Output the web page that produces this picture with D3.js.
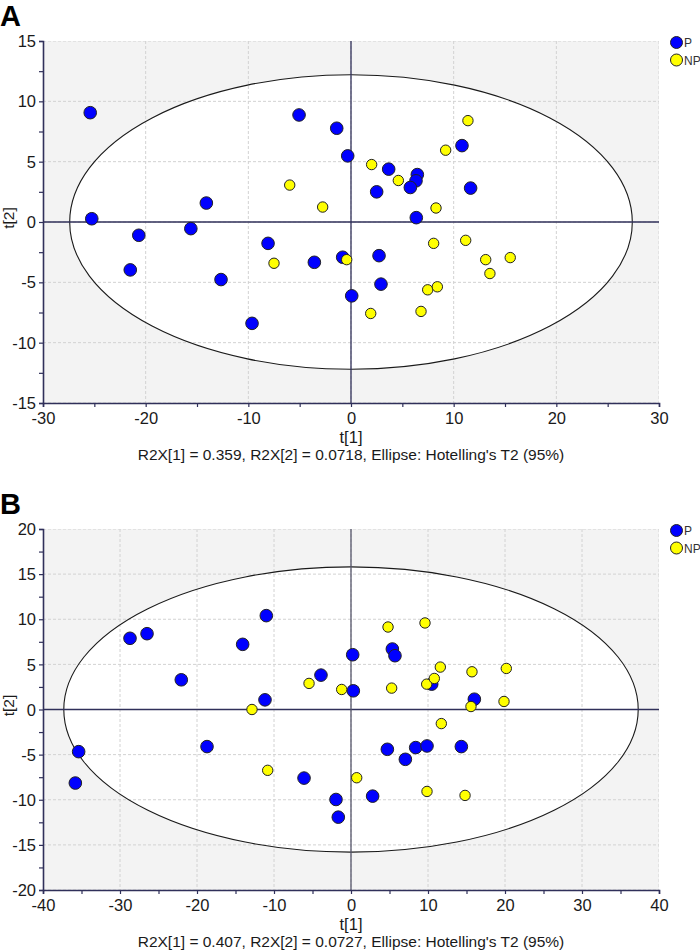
<!DOCTYPE html>
<html><head><meta charset="utf-8">
<script src="https://cdn.jsdelivr.net/npm/d3@7"></script>
<style>
body{margin:0;background:#fff;}
svg{display:block;font-family:"Liberation Sans",Arial,sans-serif;}
</style></head>
<body>
<svg id="chart" width="700" height="950"></svg>
<script>
// ---- Panel A data ----
const seriesNames = ["P", "NP"];
const seriesColors = ["#0000ff", "#ffff00"];
const aP = [[-25.4,9.06],[-25.25,0.27],[-5.06,8.87],[-1.39,7.77],[-0.32,5.48],[-14.09,1.57],[-15.6,-0.55],[3.67,4.38],[2.5,2.5],[6.46,3.93],[6.33,3.41],[5.78,2.86],[6.36,0.36],[10.81,6.33],[11.65,2.81],[-20.67,-1.1],[-21.5,-3.97],[-12.66,-4.77],[-8.08,-1.77],[-3.57,-3.34],[-0.81,-2.92],[-9.64,-8.4],[0.07,-6.12],[2.73,-2.79],[2.92,-5.15]];
const aNP = [[-5.97,3.06],[-2.76,1.24],[2.01,4.76],[4.61,3.44],[8.28,1.16],[9.22,5.95],[11.39,8.4],[-7.5,-3.42],[-0.42,-3.12],[8.05,-1.77],[11.17,-1.52],[13.12,-3.12],[15.51,-2.95],[13.53,-4.27],[7.47,-5.62],[8.41,-5.37],[1.92,-7.58],[6.82,-7.41]];
const aXTicks = [-30,-20,-10,0,10,20,30];
const aYTicks = [-15,-10,-5,0,5,10,15];
const aEllipse = [27.4, 12.2];
const aCaption = "R2X[1] = 0.359, R2X[2] = 0.0718, Ellipse: Hotelling's T2 (95%)";
// ---- Panel B data ----
const bP = [[-28.7,7.89],[-26.49,8.4],[-14.07,7.22],[-11.0,10.4],[0.22,6.07],[5.37,6.7],[5.71,5.96],[-22.04,3.29],[-3.9,3.81],[0.3,2.07],[-11.17,1.07],[-35.37,-4.67],[-35.8,-8.15],[-18.7,-4.11],[-6.1,-7.6],[-1.95,-9.97],[-1.65,-11.93],[10.48,2.81],[16.02,1.14],[4.72,-4.41],[8.4,-4.22],[9.87,-4.04],[14.33,-4.11],[7.06,-5.52],[2.81,-9.6]];
const bNP = [[4.81,9.14],[9.61,9.59],[-5.45,2.89],[-1.21,2.22],[-12.86,0],[-10.82,-6.74],[5.28,2.37],[9.83,2.81],[10.82,3.44],[11.6,4.7],[15.71,4.18],[20.17,4.55],[15.58,0.33],[19.87,0.89],[11.73,-1.56],[0.74,-7.56],[9.87,-9.08],[14.81,-9.52]];
const bXTicks = [-40,-30,-20,-10,0,10,20,30,40];
const bYTicks = [-20,-15,-10,-5,0,5,10,15,20];
const bEllipse = [37.3, 15.8];
const bCaption = "R2X[1] = 0.407, R2X[2] = 0.0727, Ellipse: Hotelling's T2 (95%)";

const svg = d3.select("#chart");
const axisColor = "#30305a";

function panel(cfg){
  const g = svg.append("g");
  const {left,right,top,bottom} = cfg.box;
  const x = d3.scaleLinear().domain([cfg.xTicks[0], cfg.xTicks[cfg.xTicks.length-1]]).range([left,right]);
  const y = d3.scaleLinear().domain([cfg.yTicks[0], cfg.yTicks[cfg.yTicks.length-1]]).range([bottom,top]);
  const clipId = "clip"+cfg.label;
  svg.append("clipPath").attr("id",clipId).append("rect")
    .attr("x",left).attr("y",top).attr("width",right-left).attr("height",bottom-top);
  g.append("rect").attr("x",left).attr("y",top).attr("width",right-left).attr("height",bottom-top).attr("fill","#f3f3f3");
  const inner = g.append("g").attr("clip-path",`url(#${clipId})`);
  inner.append("ellipse").attr("cx",x(0)).attr("cy",y(0))
    .attr("rx",x(cfg.ellipse[0])-x(0)).attr("ry",y(0)-y(cfg.ellipse[1]))
    .attr("fill","#fff");
  inner.selectAll(".gx").data(cfg.xTicks).join("line")
    .attr("x1",d=>x(d)).attr("x2",d=>x(d)).attr("y1",top).attr("y2",bottom)
    .attr("stroke","#d2d2d2").attr("stroke-dasharray","3,2").attr("stroke-width",1);
  inner.selectAll(".gy").data(cfg.yTicks).join("line")
    .attr("y1",d=>y(d)).attr("y2",d=>y(d)).attr("x1",left).attr("x2",right)
    .attr("stroke","#d2d2d2").attr("stroke-dasharray","3,2").attr("stroke-width",1);
  inner.append("ellipse").attr("cx",x(0)).attr("cy",y(0))
    .attr("rx",x(cfg.ellipse[0])-x(0)).attr("ry",y(0)-y(cfg.ellipse[1]))
    .attr("fill","none").attr("stroke","#1a1a1a").attr("stroke-width",1.1);
  inner.append("line").attr("x1",left).attr("x2",right).attr("y1",y(0)).attr("y2",y(0)).attr("stroke",axisColor).attr("stroke-width",1.3);
  inner.append("line").attr("x1",x(0)).attr("x2",x(0)).attr("y1",top).attr("y2",bottom).attr("stroke",cfg.label==="B"?"#55556a":axisColor).attr("stroke-width",1.3);
  const pts = cfg.P.map(d=>({x:d[0],y:d[1],s:0})).concat(cfg.NP.map(d=>({x:d[0],y:d[1],s:1})));
  inner.selectAll(".pt").data(pts).join("circle")
    .attr("cx",d=>x(d.x)).attr("cy",d=>y(d.y))
    .attr("r",d=>d.s===0?6.3:5.2)
    .attr("fill",d=>seriesColors[d.s]).attr("stroke","#222").attr("stroke-width",1);
  const xMinor = d3.range(cfg.xTicks[0], cfg.xTicks[cfg.xTicks.length-1]+0.01, (cfg.xTicks[1]-cfg.xTicks[0])/2);
  const yMinor = d3.range(cfg.yTicks[0], cfg.yTicks[cfg.yTicks.length-1]+0.01, (cfg.yTicks[1]-cfg.yTicks[0])/2);
  const xAx = g.append("g").attr("transform",`translate(0,${bottom})`)
    .call(d3.axisBottom(x).tickValues(xMinor).tickSize(4).tickFormat(d=>cfg.xTicks.includes(d)?String(d):""));
  const yAx = g.append("g").attr("transform",`translate(${left},0)`)
    .call(d3.axisLeft(y).tickValues(yMinor).tickSize(4).tickFormat(d=>cfg.yTicks.includes(d)?String(d):""));
  [xAx,yAx].forEach(a=>{
    a.attr("font-size",null).attr("font-family",null);
    a.select(".domain").attr("stroke",axisColor).attr("stroke-width",1.6);
    a.selectAll(".tick line").attr("stroke",axisColor).attr("stroke-width",1.2);
    a.selectAll("text").attr("fill","#1a1a1a").style("font-size","16.5px").style("font-family","'Liberation Sans',Arial,sans-serif");
  });
  xAx.selectAll("text").attr("dy","0.71em").attr("y",9);
  yAx.selectAll("text").attr("x",-7).attr("dy","0.34em");
  g.append("text").attr("x",x(0)).attr("y",bottom+40).attr("text-anchor","middle").style("font-size","16.5px").attr("fill","#1a1a1a").text("t[1]");
  g.append("text").attr("x",x(0)).attr("y",bottom+57).attr("text-anchor","middle").style("font-size","15.5px").attr("fill","#1a1a1a").text(cfg.caption);
  g.append("text").attr("transform",`translate(14,${y(0)-4}) rotate(-90)`).attr("text-anchor","middle").style("font-size","15.5px").attr("fill","#1a1a1a").text("t[2]");
  g.append("text").attr("x",0).attr("y",cfg.letterY).style("font-size","29px").attr("font-weight","bold").attr("fill","#000").text(cfg.label);
  const lg = g.append("g");
  seriesNames.forEach((n,i)=>{
    lg.append("circle").attr("cx",676.5).attr("cy",top+1.5+i*17.5).attr("r",6).attr("fill",seriesColors[i]).attr("stroke","#222").attr("stroke-width",1);
    lg.append("text").attr("x",684).attr("y",top+1.5+i*17.5+4.5).style("font-size","12px").attr("fill","#333").text(n);
  });
}

panel({label:"A", box:{left:43,right:659,top:41,bottom:403}, xTicks:aXTicks, yTicks:aYTicks, ellipse:aEllipse, P:aP, NP:aNP, caption:aCaption, letterY:26});
panel({label:"B", box:{left:43,right:659,top:529,bottom:890}, xTicks:bXTicks, yTicks:bYTicks, ellipse:bEllipse, P:bP, NP:bNP, caption:bCaption, letterY:514});
</script>
</body></html>
